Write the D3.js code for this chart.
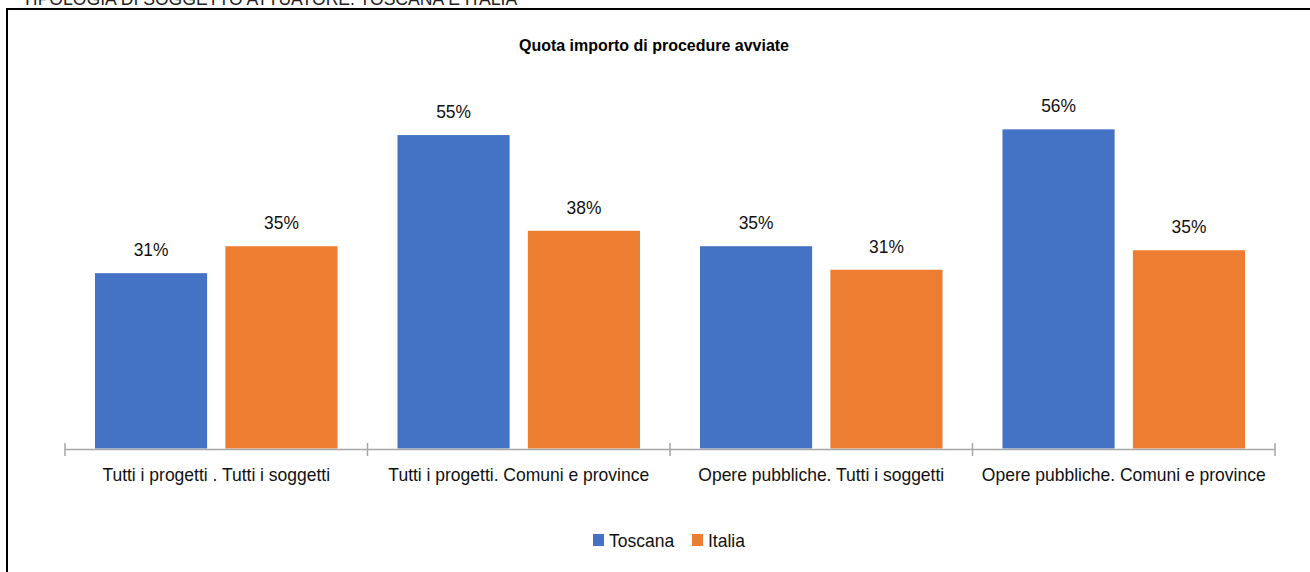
<!DOCTYPE html>
<html>
<head>
<meta charset="utf-8">
<script src="https://cdn.jsdelivr.net/npm/d3@7"></script>
<style>
  body { margin: 0; background: #fff; }
  svg { display: block; font-family: "Liberation Sans", Arial, sans-serif; }
</style>
</head>
<body>
<div id="chart"></div>
<script>
// data
let categories = ["Tutti i progetti . Tutti i soggetti", "Tutti i progetti. Comuni e province",
                  "Opere pubbliche. Tutti i soggetti", "Opere pubbliche. Comuni e province"];
let seriesNames = ["Toscana", "Italia"];
let toscana = [0.306, 0.547, 0.353, 0.557];
let italia = [0.353, 0.380, 0.312, 0.346];
let colors = ["#4472C4", "#ED7D31"];

let width = 1310, height = 572;
let stretch = 1.06; // text in the reference looks a bit tall

let svg = d3.select("#chart")
    .append("svg")
    .attr("width", width)
    .attr("height", height);

// clipped heading above the frame
addText(svg, 22, 4.5, "TIPOLOGIA DI SOGGETTO ATTUATORE. TOSCANA E ITALIA")
    .style("font-size", "17.6px")
    .attr("fill", "#222");

// frame
svg.append("rect")
    .attr("x", 7).attr("y", 9)
    .attr("width", 1330).attr("height", 600)
    .attr("fill", "none")
    .attr("stroke", "#000")
    .attr("stroke-width", 2);

addText(svg, 654, 51, "Quota importo di procedure avviate")
    .attr("text-anchor", "middle")
    .style("font-size", "16px")
    .style("font-weight", 700);

let x0 = d3.scaleBand().domain(categories).range([65, 1275]).padding(0);
let x1 = d3.scaleBand().domain(seriesNames).range([0, x0.bandwidth()])
    .paddingInner(0.14).paddingOuter(0.23);
let y = d3.scaleLinear().domain([0, 0.6]).range([448.5, 104.7]);

let rows = categories.map(function(c, i) {
    return { cat: c, values: [toscana[i], italia[i]] };
});

let groups = svg.selectAll("g.cat").data(rows).enter()
    .append("g")
    .attr("class", "cat")
    .attr("transform", function(d) { return `translate(${x0(d.cat)}, 0)`; });

groups.selectAll("rect")
    .data(function(d) { return d.values.map(function(v, j) { return { key: seriesNames[j], value: v, j: j }; }); })
    .enter()
    .append("rect")
    .attr("x", function(d) { return x1(d.key); })
    .attr("y", function(d) { return y(d.value); })
    .attr("width", x1.bandwidth())
    .attr("height", function(d) { return y(0) - y(d.value); })
    .attr("fill", function(d) { return colors[d.j]; });

groups.each(function(row) {
    let g = d3.select(this);
    row.values.forEach(function(v, j) {
        addText(g, x1(seriesNames[j]) + x1.bandwidth() / 2, y(v) - 17, d3.format(".0%")(v))
            .attr("text-anchor", "middle")
            .style("font-size", "17.4px")
            .attr("fill", "#111");
    });
});

// category axis
let axis = svg.append("g");
axis.append("line")
    .attr("x1", 65).attr("x2", 1275)
    .attr("y1", 449.5).attr("y2", 449.5)
    .attr("stroke", "#a6a6a6")
    .attr("stroke-width", 1.5);
let bounds = categories.map(function(c) { return x0(c); }).concat([x0.range()[1]]);
axis.selectAll("line.tick").data(bounds).enter()
    .append("line")
    .attr("class", "tick")
    .attr("x1", function(d) { return d; }).attr("x2", function(d) { return d; })
    .attr("y1", 443).attr("y2", 456)
    .attr("stroke", "#a6a6a6")
    .attr("stroke-width", 1.5);
categories.forEach(function(c) {
    addText(axis, x0(c) + x0.bandwidth() / 2, 480.7, c)
        .attr("text-anchor", "middle")
        .style("font-size", "17.5px")
        .attr("fill", "#111");
});

// legend
let legend = svg.append("g");
let legendX = [593, 692];
seriesNames.forEach(function(s, i) {
    legend.append("rect")
        .attr("x", legendX[i]).attr("y", 534)
        .attr("width", 11).attr("height", 12)
        .attr("fill", colors[i]);
    addText(legend, legendX[i] + 16, 547.3, s)
        .style("font-size", "17.5px")
        .attr("fill", "#111");
});

function addText(parent, tx, ty, str) {
    return parent.append("text")
        .attr("transform", `translate(${tx}, ${ty}) scale(1, ${stretch})`)
        .text(str);
}
</script>
</body>
</html>
